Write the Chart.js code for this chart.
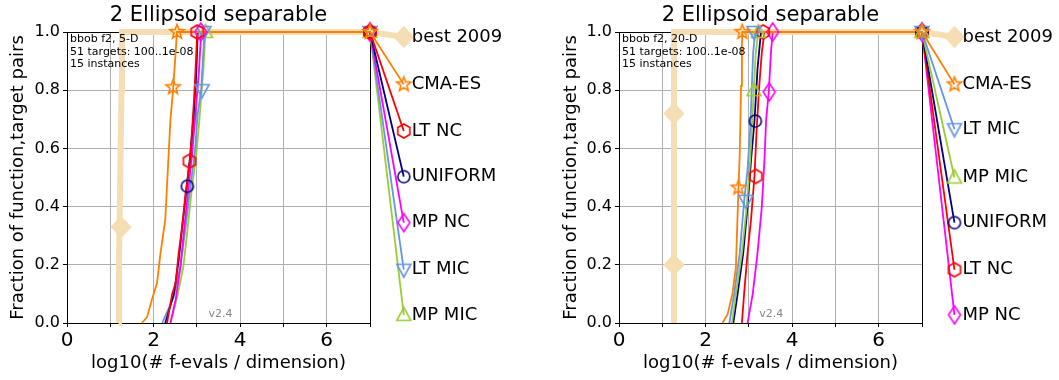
<!DOCTYPE html>
<html>
<head>
<meta charset="utf-8">
<script src="https://cdn.jsdelivr.net/npm/chart.js@4.4.1/dist/chart.umd.min.js"></script>
<style>
  body { margin: 0; background: #fff; }
  canvas { position: absolute; top: 0; }
</style>
</head>
<body>
<canvas id="c5" width="530" height="380" style="left:0px"></canvas>
<canvas id="c20" width="529" height="380" style="left:530px"></canvas>
<script>
// ---- 5-D panel: ECDF curves (x = log10 evals/dim, y = fraction) ----
var d5BestX = [1.19, 1.20, 1.22, 1.24, 1.26, 1.27];
var d5BestY = [0, 0.2, 0.4, 0.6, 0.8, 1.0];
var d5CmaX = [1.73, 1.85, 1.96, 2.08, 2.16, 2.27, 2.31, 2.35, 2.39, 2.45, 2.51, 2.54];
var d5CmaY = [0, 0.02, 0.08, 0.137, 0.24, 0.355, 0.47, 0.585, 0.70, 0.80, 0.93, 1.0];
var d5LtncX = [2.31, 2.43, 2.51, 2.58, 2.66, 2.74, 2.84, 2.89, 2.93, 2.97, 3.01];
var d5LtncY = [0, 0.10, 0.137, 0.24, 0.33, 0.447, 0.556, 0.666, 0.757, 0.872, 1.0];
var d5UniX = [2.27, 2.47, 2.58, 2.66, 2.76, 2.85, 2.93, 2.99, 3.02];
var d5UniY = [0, 0.10, 0.215, 0.33, 0.46, 0.58, 0.72, 0.87, 1.0];
var d5MpncX = [2.39, 2.51, 2.62, 2.71, 2.81, 2.89, 2.97, 3.05, 3.10];
var d5MpncY = [0, 0.08, 0.19, 0.33, 0.47, 0.58, 0.72, 0.87, 1.0];
var d5LtmicX = [2.20, 2.47, 2.62, 2.74, 2.85, 2.95, 3.02, 3.10, 3.15, 3.18];
var d5LtmicY = [0, 0.092, 0.195, 0.33, 0.47, 0.58, 0.72, 0.80, 0.93, 1.0];
var d5MpmicX = [2.39, 2.55, 2.69, 2.79, 2.89, 2.99, 3.07, 3.15, 3.20];
var d5MpmicY = [0, 0.092, 0.195, 0.33, 0.47, 0.58, 0.72, 0.87, 1.0];
// marker points on the curves
var d5Marks = {
  'best 2009': [[1.25, 0.33]],
  'CMA-ES': [[2.45, 0.81], [2.54, 1.0]],
  'LT NC': [[2.83, 0.556], [3.01, 1.0]],
  'UNIFORM': [[2.78, 0.47]],
  'MP NC': [[3.09, 1.0]],
  'LT MIC': [[3.12, 0.80], [3.16, 1.0]],
  'MP MIC': [[3.20, 1.0]]
};
var d5Legend = ['best 2009', 'CMA-ES', 'LT NC', 'UNIFORM', 'MP NC', 'LT MIC', 'MP MIC'];
var d5LegendY = [0.983, 0.82, 0.66, 0.503, 0.345, 0.183, 0.028];

// ---- 20-D panel ----
var d20BestX = [1.27, 1.27];
var d20BestY = [0, 1.0];
var d20CmaX = [2.39, 2.51, 2.62, 2.70, 2.76, 2.79, 2.82, 2.84, 2.85];
var d20CmaY = [0, 0.03, 0.10, 0.19, 0.465, 0.585, 0.815, 0.953, 1.0];
var d20LtmicX = [2.55, 2.66, 2.79, 2.89, 2.97, 3.03, 3.07, 3.10, 3.15];
var d20LtmicY = [0, 0.10, 0.24, 0.418, 0.527, 0.665, 0.815, 0.93, 1.0];
var d20MpmicX = [2.61, 2.70, 2.84, 2.95, 3.03, 3.10, 3.16, 3.22];
var d20MpmicY = [0, 0.10, 0.24, 0.40, 0.56, 0.757, 0.93, 1.0];
var d20UniX = [2.64, 2.74, 2.87, 2.97, 3.05, 3.13, 3.20, 3.28];
var d20UniY = [0, 0.10, 0.24, 0.40, 0.56, 0.694, 0.873, 1.0];
var d20LtncX = [2.84, 2.89, 2.97, 3.05, 3.13, 3.18, 3.24, 3.30, 3.36];
var d20LtncY = [0, 0.10, 0.24, 0.355, 0.504, 0.665, 0.815, 0.93, 1.0];
var d20MpncX = [2.97, 3.09, 3.20, 3.30, 3.36, 3.40, 3.46, 3.51, 3.55];
var d20MpncY = [0, 0.10, 0.24, 0.40, 0.56, 0.70, 0.794, 0.93, 1.0];
var d20Marks = {
  'best 2009': [[1.27, 0.2], [1.27, 0.72]],
  'CMA-ES': [[2.76, 0.465], [2.85, 1.0]],
  'LT MIC': [[2.93, 0.42], [3.12, 1.0]],
  'MP MIC': [[3.12, 0.80], [3.22, 1.0]],
  'UNIFORM': [[3.15, 0.694]],
  'LT NC': [[3.16, 0.504], [3.33, 1.0]],
  'MP NC': [[3.47, 0.794], [3.55, 1.0]]
};
var d20Legend = ['best 2009', 'CMA-ES', 'LT MIC', 'MP MIC', 'UNIFORM', 'LT NC', 'MP NC'];
var d20LegendY = [0.983, 0.82, 0.666, 0.50, 0.345, 0.183, 0.028];

var xTicks = [0, 1, 2, 3, 4, 5, 6, 7];
var yTicks = [0, 0.2, 0.4, 0.6, 0.8, 1.0];

var FONT = "'DejaVu Sans', 'Liberation Sans', sans-serif";

var look = {
  'best 2009': { color: '#f5deb3', width: 6, shape: 'diamond', fill: '#f5deb3' },
  'CMA-ES': { color: '#ff7f00', width: 1.8, shape: 'star' },
  'LT NC': { color: '#ff0000', width: 1.8, shape: 'hexagon' },
  'UNIFORM': { color: '#000080', width: 1.8, shape: 'circle' },
  'MP NC': { color: '#ff00ff', width: 1.8, shape: 'thin' },
  'LT MIC': { color: '#6495ed', width: 1.8, shape: 'down' },
  'MP MIC': { color: '#9acd32', width: 1.8, shape: 'up' }
};

// small canvases used as point styles (matplotlib-like markers)
function makeMarker(shape, color, fill) {
  var s = 26, m = s / 2, c = document.createElement('canvas');
  c.width = s; c.height = s;
  var g = c.getContext('2d');
  var pts = [], i, r, a;
  g.beginPath();
  if (shape === 'circle') {
    g.arc(m, m, 6, 0, Math.PI * 2);
  } else {
    if (shape === 'star') {
      for (i = 0; i < 10; i++) {
        r = i % 2 ? 3.2 : 7.5;
        a = -Math.PI / 2 + i * Math.PI / 5;
        pts.push([m + r * Math.cos(a), m + r * Math.sin(a)]);
      }
    } else if (shape === 'hexagon') {
      for (i = 0; i < 6; i++) {
        a = -Math.PI / 2 + i * Math.PI / 3;
        pts.push([m + 7 * Math.cos(a), m + 7 * Math.sin(a)]);
      }
    } else if (shape === 'down') {
      pts = [[m - 7, m - 5.5], [m + 7, m - 5.5], [m, m + 7.5]];
    } else if (shape === 'up') {
      pts = [[m, m - 7.5], [m + 7, m + 5.5], [m - 7, m + 5.5]];
    } else if (shape === 'diamond') {
      pts = [[m, m - 10], [m + 9.5, m], [m, m + 10], [m - 9.5, m]];
    } else if (shape === 'thin') {
      pts = [[m, m - 9], [m + 6, m], [m, m + 9], [m - 6, m]];
    }
    g.moveTo(pts[0][0], pts[0][1]);
    for (i = 1; i < pts.length; i++) g.lineTo(pts[i][0], pts[i][1]);
    g.closePath();
  }
  if (fill) { g.fillStyle = fill; g.fill(); }
  g.lineWidth = 1.6;
  g.strokeStyle = color;
  g.stroke();
  return c;
}

function buildSets(curves, marks, legendNames, legendY, legendX) {
  var sets = [];
  legendNames.forEach(function (name, k) {
    var cv = curves[name], st = look[name];
    var line = cv[0].map(function (v, i) { return { x: v, y: cv[1][i] }; });
    line.push({ x: 7, y: 1 }, { x: legendX, y: legendY[k] });
    sets.push({
      label: name, data: line, showLine: true, borderColor: st.color,
      borderWidth: st.width, pointRadius: 0, clip: false,
      order: name === 'best 2009' ? 3 : 1
    });
    var pts = marks[name].map(function (p) { return { x: p[0], y: p[1] }; });
    pts.push({ x: 7, y: 1 }, { x: legendX, y: legendY[k] });
    sets.push({
      label: name + ' markers', data: pts, showLine: false,
      pointStyle: makeMarker(st.shape, st.color, st.fill), pointRadius: 6,
      clip: false, order: name === 'best 2009' ? 2 : 0
    });
  });
  return sets;
}

// text, frame and out-of-area markers
var deco = {
  id: 'deco',
  beforeDatasetsDraw: function (chart) {
    var a = chart.chartArea, ctx = chart.ctx;
    ctx.save();
    ctx.strokeStyle = '#000';
    ctx.lineWidth = 1;
    ctx.strokeRect(Math.round(a.left) + 0.5, Math.round(a.top) + 0.5,
      Math.round(a.right) - Math.round(a.left), Math.round(a.bottom) - Math.round(a.top));
    ctx.restore();
  },
  afterDatasetsDraw: function (chart, args, o) {
    var a = chart.chartArea, ctx = chart.ctx;
    var sx = chart.scales.x, sy = chart.scales.y;
    ctx.save();
    // markers that fall outside the plot area (legend side)
    chart.data.datasets.forEach(function (ds, i) {
      if (ds.showLine) return;
      chart.getDatasetMeta(i).data.forEach(function (el) {
        var img = ds.pointStyle, h = img.width / 2;
        if (el.x > a.right + h || el.y < a.top - h) {
          ctx.drawImage(img, el.x - h, el.y - h);
        }
      });
    });
    ctx.fillStyle = '#000';
    ctx.font = '21px ' + FONT;
    ctx.textAlign = 'center';
    ctx.textBaseline = 'middle';
    ctx.fillText(o.title, (a.left + a.right) / 2, 16);
    ctx.font = '11px ' + FONT;
    ctx.textAlign = 'left';
    ctx.textBaseline = 'top';
    o.info.forEach(function (t, i) { ctx.fillText(t, a.left + 3, a.top + 2 + i * 12.5); });
    ctx.fillStyle = '#888';
    ctx.textBaseline = 'middle';
    ctx.fillText('v2.4', sx.getPixelForValue(o.versionX), a.bottom - 9);
    ctx.fillStyle = '#000';
    ctx.font = '18px ' + FONT;
    o.names.forEach(function (n, i) {
      ctx.fillText(n, sx.getPixelForValue(o.legendX) + 8, sy.getPixelForValue(o.legendY[i]));
    });
    ctx.restore();
  }
};

function makeChart(id, sets, yWidth, yTitlePad, padRight, decoOpts) {
  return new Chart(document.getElementById(id), {
    type: 'scatter',
    data: { datasets: sets },
    plugins: [deco],
    options: {
      responsive: false,
      animation: false,
      events: [],
      devicePixelRatio: 1,
      layout: { padding: { left: 0, top: 32, right: padRight, bottom: 0 } },
      plugins: { legend: { display: false }, tooltip: { enabled: false }, deco: decoOpts },
      scales: {
        x: {
          type: 'linear',
          // range set here (not via min/max) so points past 7 are still drawn
          afterDataLimits: function (s) { s.min = xTicks[0]; s.max = xTicks[xTicks.length - 1]; },
          afterFit: function (s) { s.height = 57; },
          afterBuildTicks: function (s) { s.ticks = xTicks.map(function (v) { return { value: v }; }); },
          border: { display: false },
          grid: { color: '#b0b0b0', lineWidth: 1, tickLength: 4, tickColor: '#000' },
          ticks: {
            stepSize: 1,
            color: '#000', font: { family: FONT, size: 20 }, padding: 2,
            autoSkip: false, maxRotation: 0,
            callback: function (v) { return v % 2 === 0 ? String(v) : ''; }
          },
          title: {
            display: true, text: 'log10(# f-evals / dimension)', color: '#000',
            font: { family: FONT, size: 18 }, padding: { top: 0, bottom: 6 }
          }
        },
        y: {
          type: 'linear', min: 0, max: 1,
          afterFit: function (s) { s.width = yWidth; },
          afterBuildTicks: function (s) { s.ticks = yTicks.map(function (v) { return { value: v }; }); },
          border: { display: false },
          grid: { color: '#b0b0b0', lineWidth: 1, tickLength: 4, tickColor: '#000' },
          ticks: {
            color: '#000', font: { family: FONT, size: 16 }, padding: 3,
            callback: function (v) { return v.toFixed(1); }
          },
          title: {
            display: true, text: 'Fraction of function,target pairs', color: '#000',
            font: { family: FONT, size: 18 }, padding: { top: yTitlePad, bottom: 0 }
          }
        }
      }
    }
  });
}

var curves5 = {
  'best 2009': [d5BestX, d5BestY], 'CMA-ES': [d5CmaX, d5CmaY], 'LT NC': [d5LtncX, d5LtncY],
  'UNIFORM': [d5UniX, d5UniY], 'MP NC': [d5MpncX, d5MpncY], 'LT MIC': [d5LtmicX, d5LtmicY],
  'MP MIC': [d5MpmicX, d5MpmicY]
};
var curves20 = {
  'best 2009': [d20BestX, d20BestY], 'CMA-ES': [d20CmaX, d20CmaY], 'LT NC': [d20LtncX, d20LtncY],
  'UNIFORM': [d20UniX, d20UniY], 'MP NC': [d20MpncX, d20MpncY], 'LT MIC': [d20LtmicX, d20LtmicY],
  'MP MIC': [d20MpmicX, d20MpmicY]
};

makeChart('c5', buildSets(curves5, d5Marks, d5Legend, d5LegendY, 7.78), 67, 8, 160, {
  title: '2 Ellipsoid separable',
  info: ['bbob f2, 5-D', '51 targets: 100..1e-08', '15 instances'],
  versionX: 3.27, legendX: 7.78, names: d5Legend, legendY: d5LegendY
});
makeChart('c20', buildSets(curves20, d20Marks, d20Legend, d20LegendY, 7.75), 89, 31, 137, {
  title: '2 Ellipsoid separable',
  info: ['bbob f2, 20-D', '51 targets: 100..1e-08', '15 instances'],
  versionX: 3.24, legendX: 7.75, names: d20Legend, legendY: d20LegendY
});
</script>
</body>
</html>
